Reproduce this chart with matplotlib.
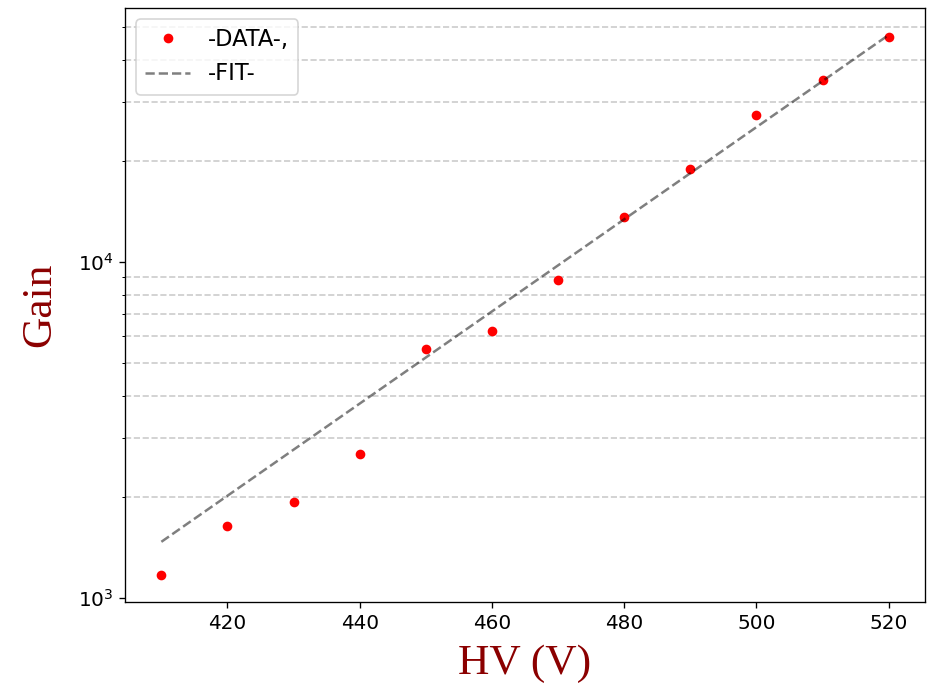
import numpy as np
import matplotlib.pyplot as plt

# 数据: 高压 (V) 与增益
hv = [410, 420, 430, 440, 450, 460, 470, 480, 490, 500, 510, 520]
gain = [1170, 1640, 1930, 2680, 5510, 6240, 8840, 13600, 18900, 27400, 34800, 46800]

# 拟合参数: log10(G) = fit_a + fit_b * (HV - 410)
fit_a = 3.167
fit_b = 0.013715

fig = plt.figure(figsize=(938 / 120, 683 / 120), dpi=120)
ax = fig.add_axes([125 / 938, 1 - 602 / 683, 800 / 938, 594 / 683])

hv_arr = np.array(hv)
fit_gain = 10 ** (fit_a + fit_b * (hv_arr - 410))

ax.plot(hv, gain, 'o', color='red', markersize=4.8, label='-DATA-,')
ax.plot(hv_arr, fit_gain, '--', color='black', alpha=0.5, linewidth=1.5, label='-FIT-')
ax.set_yscale('log')

ax.grid(True, which='minor', axis='y', linestyle='--', color='#cccccc', linewidth=1)
ax.tick_params(labelsize=12)
ax.set_xlabel('HV (V)', fontsize=26, color='#8b0000', family='Liberation Serif', labelpad=7)
ax.set_ylabel('Gain', fontsize=26, color='#8b0000', family='Liberation Serif', labelpad=11)
ax.legend(loc='upper left', fontsize=13.5)

fig.savefig('out.png', dpi=120)
